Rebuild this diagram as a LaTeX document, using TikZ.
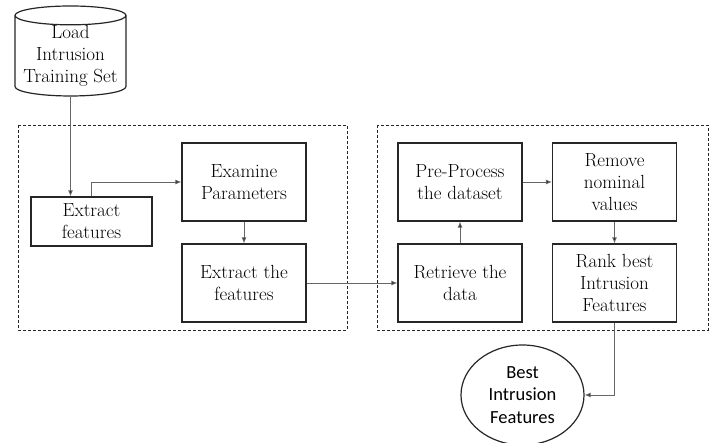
\documentclass[tikz,border=0pt]{standalone}
\usepackage{fontspec}
\newfontfamily\calfont{Carlito}
\usepackage{tikz}
\usetikzlibrary{arrows.meta,shapes.geometric}
\tikzset{
    procbox/.style={draw=black!85, line width=1.2pt, align=center, inner sep=0pt,
        minimum width=124pt, minimum height=78pt, font=\fontsize{19}{22}\selectfont},
    flowarr/.style={draw=black!60, line width=0.9pt, -{Latex[length=6pt,width=5pt,fill=black]}},
    groupbox/.style={draw=black!85, line width=0.9pt, dash pattern=on 3pt off 2pt}
}

\begin{document}
\begin{tikzpicture}[x=1pt, y=-1pt]
\useasboundingbox (0,0) rectangle (725,443);
% the two dashed groups
\draw[groupbox] (18,125) rectangle (347,330);
\draw[groupbox] (377,125) rectangle (708,330);
% data source
\node[cylinder, shape border rotate=90, draw=black!85, line width=1.2pt, aspect=0.2,
    minimum width=111pt, minimum height=90pt, align=center, inner sep=0pt,
    font=\fontsize{19}{22}\selectfont] (load) at (70.5,56) {Load\\Intrusion\\Training Set};
% process boxes
\node[procbox, minimum width=121pt, minimum height=49pt] (exfeat) at (91.5,221.5) {Extract\\features};
\node[procbox] (exam) at (244,182) {Examine\\Parameters};
\node[procbox] (exthe) at (244,283) {Extract the\\features};
\node[procbox] (prep) at (460,182) {Pre-Process\\the dataset};
\node[procbox] (remove) at (614.5,182) {Remove\\nominal\\values};
\node[procbox] (retr) at (460,283) {Retrieve the\\data};
\node[procbox] (rank) at (614.5,283) {Rank best\\Intrusion\\Features};
\node[ellipse, draw=black!85, line width=1.2pt, minimum width=123pt, minimum height=100pt,
    align=center, inner sep=0pt, font=\calfont\fontsize{18.5}{22.5}\selectfont]
    (best) at (522.5,395) {Best\\Intrusion\\Features};
% connectors
\draw[flowarr] (load.bottom) -- (load.bottom |- exfeat.north);
\draw[flowarr] (exfeat.north) |- (exam.west);
\draw[flowarr] (exam.south) -- (exthe.north);
\draw[flowarr] (exthe.east) -- (retr.west);
\draw[flowarr] (retr.north) -- (prep.south);
\draw[flowarr] (prep.east) -- (remove.west);
\draw[flowarr] (remove.south) -- (rank.north);
\draw[flowarr] (rank.south) |- (best.east);
\end{tikzpicture}
\end{document}
